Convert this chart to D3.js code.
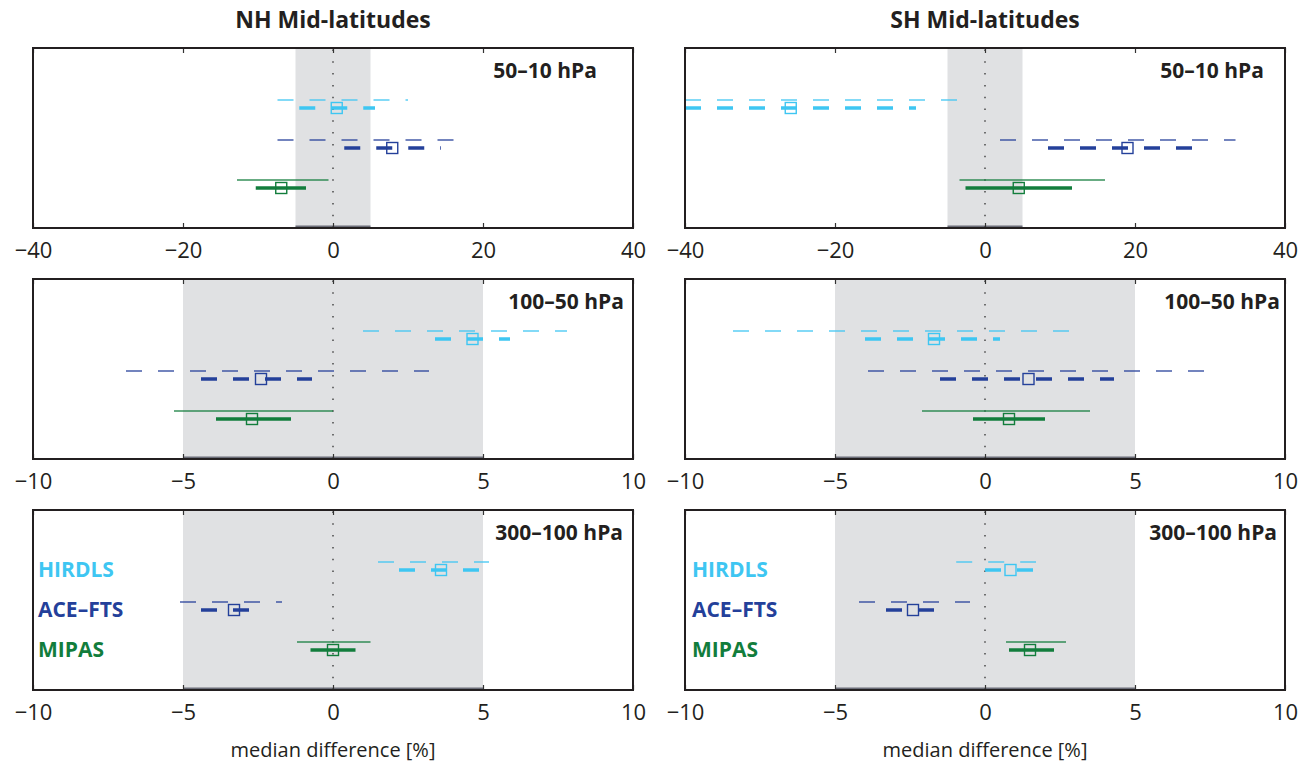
<!DOCTYPE html>
<html>
<head>
<meta charset="utf-8">
<script src="https://cdn.jsdelivr.net/npm/d3@7"></script>
<style>
  html, body { margin: 0; padding: 0; background: #fff; }
  svg { display: block; }
</style>
</head>
<body>
<svg id="chart" width="1306" height="762"></svg>
<script>
// ---------------- data ----------------
const regions = ["NH Mid-latitudes", "SH Mid-latitudes"];
const layers = ["50–10 hPa", "100–50 hPa", "300–100 hPa"];
const series = ["HIRDLS", "ACE–FTS", "MIPAS"];
const xDomains = [[-40, 40], [-10, 10], [-10, 10]];
const xTicks = [[-40, -20, 0, 20, 40], [-10, -5, 0, 5, 10], [-10, -5, 0, 5, 10]];
const bandLimits = [-5, 5];
const xLabel = "median difference [%]";

// [layer][series]
const nhMedian  = [[0.5, 7.9, -6.9], [4.65, -2.4, -2.7], [3.6, -3.3, 0.0]];
const nhInnerLo = [[-4.5, 1.5, -10.3], [3.4, -4.4, -3.9], [2.2, -4.4, -0.75]];
const nhInnerHi = [[5.6, 14.4, -3.6], [5.9, -0.7, -1.4], [4.9, -2.8, 0.75]];
const nhOuterLo = [[-7.4, -7.4, -12.8], [1.0, -6.9, -5.3], [1.5, -5.1, -1.2]];
const nhOuterHi = [[10.0, 16.1, -0.6], [7.8, 3.2, 0.0], [5.2, -1.7, 1.25]];

const shMedian  = [[-25.9, 19.0, 4.5], [-1.7, 1.45, 0.8], [0.85, -2.4, 1.5]];
const shInnerLo = [[-40, 8.4, -2.6], [-4.0, -1.5, -0.4], [0.0, -3.3, 0.8]];
const shInnerHi = [[-9.2, 27.6, 11.6], [0.5, 4.3, 2.0], [1.6, -1.7, 2.3]];
const shOuterLo = [[-40, 2.0, -3.4], [-8.4, -3.9, -2.1], [-0.96, -4.2, 0.7]];
const shOuterHi = [[-3.6, 33.4, 16.0], [2.8, 7.3, 3.5], [1.7, -0.5, 2.7]];

// ---------------- styles / layout ----------------
const colors = ["#3ec6f2", "#24409a", "#127d3c"];
const dashed = [true, true, false];
const colX = [33, 685];
const rowY = [48, 279, 510];
const W = 600, H = 180;
const labelRightInset = [[36, 9, 10], [21, 5, 8]];
const FONT = "'Open Sans', 'DejaVu Sans', sans-serif";

const regionData = [
  {median: nhMedian, iLo: nhInnerLo, iHi: nhInnerHi, oLo: nhOuterLo, oHi: nhOuterHi},
  {median: shMedian, iLo: shInnerLo, iHi: shInnerHi, oLo: shOuterLo, oHi: shOuterHi}
];

const svg = d3.select("#chart");
svg.append("rect").attr("width", 1306).attr("height", 762).attr("fill", "#fff");
const defs = svg.append("defs");

regions.forEach((region, c) => {
  const x0 = colX[c];
  // region title
  svg.append("text")
    .attr("x", x0 + W / 2).attr("y", 28)
    .attr("text-anchor", "middle")
    .style("font-family", FONT).style("font-weight", 700).style("font-size", "23px")
    .attr("fill", "#231f20")
    .text(region);

  layers.forEach((layer, r) => {
    const y0 = rowY[r];
    const x = d3.scaleLinear().domain(xDomains[r]).range([x0, x0 + W]);
    const y = d3.scaleLinear().domain([0, 4.5]).range([y0, y0 + H]);
    const clipId = `clip-${c}-${r}`;
    defs.append("clipPath").attr("id", clipId)
      .append("rect").attr("x", x0).attr("y", y0).attr("width", W).attr("height", H);

    const g = svg.append("g");
    const inner = g.append("g").attr("clip-path", `url(#${clipId})`);

    // grey band
    inner.append("rect")
      .attr("x", x(bandLimits[0])).attr("y", y0)
      .attr("width", x(bandLimits[1]) - x(bandLimits[0])).attr("height", H)
      .attr("fill", "#e0e1e3");
    inner.append("line")
      .attr("x1", x(bandLimits[0])).attr("x2", x(bandLimits[1]))
      .attr("y1", y0 + H - 1.5).attr("y2", y0 + H - 1.5)
      .attr("stroke", "#6b6d78").attr("stroke-width", 2);

    // zero dotted line
    inner.append("line")
      .attr("x1", x(0)).attr("x2", x(0))
      .attr("y1", y0 + H).attr("y2", y0)
      .attr("stroke", "#222").attr("stroke-width", 1.2)
      .attr("stroke-dasharray", "1.5,10.3");

    const d = regionData[c];
    series.forEach((s, i) => {
      const yc = y(i + 1.5);
      // outer (thin) range
      inner.append("line")
        .attr("x1", x(d.oLo[r][i])).attr("x2", x(d.oHi[r][i]))
        .attr("y1", yc - 8).attr("y2", yc - 8)
        .attr("stroke", colors[i]).attr("stroke-opacity", 0.85)
        .attr("stroke-width", 1.4)
        .attr("stroke-dasharray", dashed[i] ? "16,16" : null);
      // inner (thick) range
      inner.append("line")
        .attr("x1", x(d.iLo[r][i])).attr("x2", x(d.iHi[r][i]))
        .attr("y1", yc).attr("y2", yc)
        .attr("stroke", colors[i]).attr("stroke-width", 3.6)
        .attr("stroke-dasharray", dashed[i] ? "16,16" : null);
      // median square
      inner.append("rect")
        .attr("x", x(d.median[r][i]) - 5.5).attr("y", yc - 5.5)
        .attr("width", 11).attr("height", 11)
        .attr("fill", "none").attr("stroke", colors[i]).attr("stroke-width", 1.4);
    });

    // axes (inward ticks top and bottom)
    const axB = g.append("g").attr("transform", `translate(0,${y0 + H})`)
      .call(d3.axisBottom(x).tickValues(xTicks[r]).tickSizeInner(-5).tickSizeOuter(0).tickFormat(d3.format("d")));
    axB.select(".domain").remove();
    axB.selectAll(".tick line").attr("stroke", "#333").attr("stroke-width", 1.2);
    axB.selectAll(".tick text")
      .attr("y", 30).attr("dy", 0)
      .style("font-family", FONT).style("font-size", "22px").attr("fill", "#231f20");
    const axT = g.append("g").attr("transform", `translate(0,${y0})`)
      .call(d3.axisTop(x).tickValues(xTicks[r]).tickSizeInner(-5).tickSizeOuter(0).tickFormat(""));
    axT.select(".domain").remove();
    axT.selectAll(".tick line").attr("stroke", "#333").attr("stroke-width", 1.2);

    // frame
    g.append("rect")
      .attr("x", x0).attr("y", y0).attr("width", W).attr("height", H)
      .attr("fill", "none").attr("stroke", "#231f20").attr("stroke-width", 2);

    // layer label
    g.append("text")
      .attr("x", x0 + W - labelRightInset[c][r]).attr("y", y0 + 30)
      .attr("text-anchor", "end")
      .style("font-family", FONT).style("font-weight", 700).style("font-size", "21px")
      .attr("fill", "#231f20")
      .text(layer);

    // legend in bottom row
    if (r === layers.length - 1) {
      series.forEach((s, i) => {
        g.append("text")
          .attr("x", x0 + 5 + c * 2).attr("y", y(i + 1.5) + 7)
          .style("font-family", FONT).style("font-weight", 700).style("font-size", "21px")
          .attr("fill", colors[i])
          .text(s);
      });
      g.append("text")
        .attr("x", x0 + W / 2).attr("y", 757)
        .attr("text-anchor", "middle")
        .style("font-family", FONT).style("font-size", "20px")
        .attr("fill", "#231f20")
        .text(xLabel);
    }
  });
});
</script>
</body>
</html>
